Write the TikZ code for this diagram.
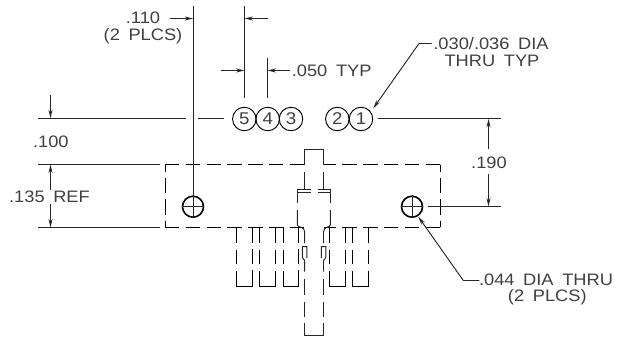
\documentclass[tikz,border=0pt]{standalone}
\usepackage{fontspec}
\setmainfont[FakeStretch=1.1,WordSpace=1.7]{Liberation Sans}
\usetikzlibrary{positioning,arrows.meta}
\tikzset{
HID/.style={draw=black,line width=.95pt,dash pattern=on 14.4pt off 6.4pt},
SIDE/.style={draw=black,line width=.95pt,dash pattern=on 7.5pt off 6pt on 15pt off 6pt on 15.5pt off 6pt on 7.5pt},
PIN/.style={draw=black,line width=.95pt,dash pattern=on 16pt off 6.5pt on 14.5pt off 6.5pt on 46.3pt off 6.5pt on 14.5pt off 6.5pt on 16pt},
DIM/.style={draw=black!85,line width=.95pt},
HOLE/.style={draw=black,line width=1.6pt},
LBL/.style={font=\fontsize{16.6}{18}\selectfont,text=black!75,inner sep=0pt},
NUM/.style={circle,draw=black,line width=.95pt,minimum size=23.5pt,inner sep=0pt,font=\fontsize{17}{18}\selectfont,text=black!75}
}
\begin{document}
\begin{tikzpicture}[>={Stealth[length=8.5pt,width=4pt]},x=1pt,y=-1pt]
\useasboundingbox (0,0) rectangle (620,343);

% body
\draw[HID] (165,164.5) -- (304.7,164.5);
\draw[HID] (440,164.5) -- (323.5,164.5);
\draw[HID] (165,227.3) -- (304.7,227.3);
\draw[HID] (440,227.3) -- (323.5,227.3);
\draw[SIDE] (165,164.5) -- (165,227.3);
\draw[SIDE] (440,164.5) -- (440,227.3);

% pins
\draw[PIN] (236.7,227.3) -- ++(0,58.7) -- ++(15.3,0) -- ++(0,-58.7);
\draw[PIN] (259.7,227.3) -- ++(0,58.7) -- ++(15.6,0) -- ++(0,-58.7);
\draw[PIN] (283.3,227.3) -- ++(0,58.7) -- ++(15.4,0) -- ++(0,-58.7);
\draw[PIN] (329.7,227.3) -- ++(0,58.7) -- ++(15.6,0) -- ++(0,-58.7);
\draw[PIN] (352.9,227.3) -- ++(0,58.7) -- ++(15.8,0) -- ++(0,-58.7);

% center lead
\draw[DIM] (304.7,164.5) -- (304.7,149) -- (323.5,149) -- (323.5,164.5);
\draw[DIM] (304.7,172) -- (304.7,189);
\draw[DIM] (323.5,172) -- (323.5,189);
\draw[DIM] (297.3,203.3) -- (297.3,189) -- (311,189);
\draw[DIM] (297.3,192.3) -- (311,192.3);
\draw[DIM] (330.3,203.3) -- (330.3,189) -- (317.7,189);
\draw[DIM] (330.3,192.3) -- (317.7,192.3);
\draw[DIM] (297.3,210) -- (297.3,225) .. controls (298,228) and (304.7,226) .. (304.7,232) -- (304.7,243);
\draw[DIM] (330.3,210) -- (330.3,225) .. controls (329.6,228) and (323.5,226) .. (323.5,232) -- (323.5,243);
\draw[DIM] (306.9,258) -- (306.9,246.7) -- (302.3,246.7) -- (302.3,257) .. controls (302.3,260) and (304.7,258) .. (304.7,262) -- (304.7,271.7);
\draw[DIM] (321.3,258) -- (321.3,246.7) -- (325.9,246.7) -- (325.9,257) .. controls (325.9,260) and (323.5,258) .. (323.5,262) -- (323.5,271.7);
\draw[DIM] (304.7,279.3) -- (304.7,295);
\draw[DIM] (323.5,279.3) -- (323.5,295);
\draw[DIM] (304.7,301.7) -- (304.7,316.7);
\draw[DIM] (323.5,301.7) -- (323.5,316.7);
\draw[DIM] (304.7,322.7) -- (304.7,335) -- (323.5,335) -- (323.5,322.7);

% mounting holes
\node[circle,HOLE,minimum size=21pt,inner sep=0pt] (holeL) at (193,206.7) {};
\node[circle,HOLE,minimum size=21pt,inner sep=0pt] (holeR) at (412,206.7) {};
\draw[DIM] (holeL.west) -- (holeL.east);
\draw[DIM] (holeL.north) -- (holeL.south);
\draw[DIM] (holeR.west) -- (holeR.east);
\draw[DIM] (holeR.north) -- (holeR.south);

% contact holes
\node[NUM] (c5) at (244.3,119) {5};
\node[NUM] (c4) at (267.7,119) {4};
\node[NUM] (c3) at (291,119) {3};
\node[NUM] (c2) at (337.3,119) {2};
\node[NUM] (c1) at (361,119) {1};

% extension lines
\coordinate (topL) at (193.2,6);
\coordinate (top5) at (244.5,6);
\coordinate (top4) at (267.5,58);
\draw[DIM] (topL) -- (193.2,196);
\draw[DIM] (top5) -- (244.5,98);
\draw[DIM] (top4) -- (267.5,98);
\draw[DIM] (38,118.2) -- (186,118.2);
\draw[DIM] (198,118.2) -- (224,118.2);
\draw[DIM] (38,164.5) -- (160,164.5);
\draw[DIM] (38,227.5) -- (160,227.5);
\draw[DIM] (378.3,118.8) -- (500.7,118.8);
\draw[DIM] (428,206.5) -- (500.7,206.5);

% arrows
\draw[DIM,->] (170,18.5) -- (193.2,18.5);
\draw[DIM,->] (268,18.5) -- (244.5,18.5);
\draw[DIM,->] (220.7,70.5) -- (244.5,70.5);
\draw[DIM,->] (290,70.5) -- (267.5,70.5);
\draw[DIM,->] (50.5,95) -- (50.5,118.2);
\draw[DIM,->] (50.5,190) -- (50.5,164.5);
\draw[DIM,->] (50.5,204) -- (50.5,227.5);
\draw[DIM,->] (488.5,148.7) -- (488.5,118.8);
\draw[DIM,->] (488.5,174) -- (488.5,206.5);

% leaders
\draw[DIM,->] (431.7,43.5) -- (419,43.5) -- (373.3,108.3);
\draw[DIM,->] (479.3,280.5) -- (463.3,280.5) -- (418.3,216.7);

% labels
\node[LBL] (t110) at (143,17.5) {.110};
\node[LBL] (t2pl) at (143,36) {(2 PLCS)};
\node[LBL] (t050) at (331.7,71) {.050 TYP};
\node[LBL] (t030) at (491,43.3) {.030/.036 DIA};
\node[LBL] (tthr) at (492,61) {THRU TYP};
\node[LBL] (t100) at (50.8,141.7) {.100};
\node[LBL] (t135) at (49.5,196.7) {.135 REF};
\node[LBL] (t190) at (489,163) {.190};
\node[LBL] (t044) at (546,280) {.044 DIA THRU};
\node[LBL] (t2p2) at (547.3,297) {(2 PLCS)};
\end{tikzpicture}
\end{document}
